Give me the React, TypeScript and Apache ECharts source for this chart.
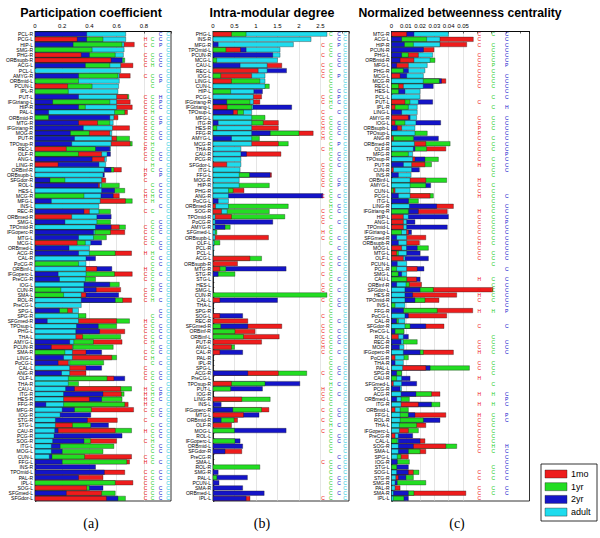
import React, { useEffect, useRef } from 'react';
import * as echarts from 'echarts';

const COLORS = ['#ee1c1c', '#22dd22', '#1414c8', '#1edcee'];
const LETTER_COLORS = ['#ee1111', '#22cc22', '#1111cc', '#22ccdd'];
const SERIES_NAMES = ['1mo', '1yr', '2yr', 'adult'];

// ---------- Panel (a): Participation coefficient ----------
const A_REGIONS = ['PCL-R','PCG-L','HIP-L','SMG-R','PHG-R','ORBsupb-R','ACG-L','PCL-L','AMYG-R','ORBmid-L','PCUN-L','IPL-R','PUT-L','IFGtriang-L','HIP-R','PAL-L','ORBmid-R','MTG-R','IFGtriang-R','MOG-R','PUT-R','TPOsup-R','REC-L','OLF-R','ANG-L','LING-R','ORBinf-R','ORBsupb-L','SFGdor-R','ROL-L','HES-L','MCG-R','MFG-L','INS-L','REC-R','ORBmed-R','SMG-L','TPOmid-R','IFGoperc-R','MTG-L','MCG-L','ORBmed-L','ACG-R','CAL-R','PoCG-R','ORBinf-L','IFGoperc-L','PreCG-R','IOG-L','CUN-R','SMA-L','ROL-R','PreCG-L','SPG-L','SPG-R','SFGmed-R','TPOsup-L','PHG-L','THA-L','AMYG-L','PCUN-R','SMA-R','LING-L','PoCG-L','CAL-L','ANG-R','OLF-L','THA-R','CAU-L','ITG-R','HES-R','FFG-R','MFG-R','IOG-R','STG-R','STG-L','CAU-R','PCG-R','SOG-R','ITG-L','MOG-L','CUN-L','FFG-L','INS-R','TPOmid-L','PAL-R','IPL-L','SOG-L','SFGmed-L','SFGdor-L'];
const A_1MO = [0,0.31,0.73,0,0.34,0.56,0.72,0,0.70,0,0.24,0,0.68,0.70,0.715,0.68,0.61,0.46,0.695,0.55,0.60,0.70,0.23,0.49,0.51,0.17,0.635,0,0.52,0.475,0,0.62,0.665,0,0.40,0.27,0,0.62,0.66,0,0.31,0,0.71,0,0,0.455,0.715,0,0,0.63,0.375,0.71,0,0.275,0,0.60,0,0.66,0.35,0.64,0.275,0.375,0.565,0.245,0.375,0.375,0.58,0,0.63,0.635,0.40,0.685,0.725,0,0.605,0.275,0.59,0,0.60,0,0,0.71,0.695,0,0.66,0.50,0.72,0.38,0.49,0.525];
const A_1YR = [0,0.50,0.64,0.42,0.59,0.66,0.55,0,0.61,0.32,0.42,0.245,0.69,0.55,0.37,0.66,0.10,0.55,0,0.40,0.695,0.715,0.445,0.32,0,0,0.58,0,0.22,0.62,0.66,0.36,0.715,0,0.555,0,0.555,0.665,0.555,0.525,0.37,0,0.59,0,0.32,0,0.585,0.445,0.62,0.19,0.21,0.645,0,0.24,0.375,0.695,0.60,0,0.63,0.43,0.575,0.22,0.60,0.505,0,0,0.53,0.32,0.71,0.655,0.64,0.66,0.415,0,0,0.41,0.71,0,0.41,0.58,0.50,0.365,0.675,0,0,0,0.59,0.40,0.59,0.665];
const A_2YR = [0.38,0.38,0.28,0,0.40,0.64,0.37,0,0.32,0,0,0,0.32,0.13,0.32,0.10,0.55,0.32,0.355,0.26,0.29,0.27,0.55,0.555,0.42,0.47,0.56,0.51,0.11,0.465,0.585,0.575,0.12,0,0.36,0.56,0.22,0.56,0.43,0.32,0.49,0.25,0.32,0.445,0,0.565,0.17,0.18,0.55,0.45,0.615,0.59,0,0.18,0,0.09,0.465,0.475,0,0.255,0.12,0.49,0.21,0.17,0.49,0.195,0.66,0,0.29,0.50,0.49,0.08,0.29,0.41,0.385,0.54,0.17,0.64,0.36,0.185,0.20,0.125,0.20,0.445,0.51,0.32,0,0.50,0.23,0.61];
const A_ADULT = [0.667,0.667,0.655,0.655,0.65,0.645,0.63,0.63,0.62,0.62,0.615,0.61,0.60,0.60,0.60,0.585,0.58,0.575,0.57,0.565,0.565,0.56,0.555,0.53,0.525,0.52,0.51,0.50,0.49,0.49,0.49,0.485,0.48,0.47,0.47,0.455,0.455,0.445,0.44,0.43,0.41,0.40,0.40,0.375,0.375,0.375,0.375,0.37,0.36,0.36,0.34,0.34,0.34,0.32,0.32,0.32,0.305,0.30,0.30,0.285,0.28,0.275,0.275,0.255,0.255,0.255,0.245,0.245,0.225,0.21,0.21,0.21,0.20,0.185,0.15,0.15,0.145,0.14,0.13,0.12,0.12,0.105,0,0,0,0,0,0,0,0];
const A_TICKS = [0, 0.2, 0.4, 0.6, 0.8];
const A_LET_1MO = '.HC.CCC.C...CCCCCCCCCCPCC.HPC.CHC.C..CCCC.H..HCC.CCC...HCCCC.CC.CCC.HHHHC.C.H.C..CH.CCCCCC';
const A_LET_1YR = '.CC.CCH.CCC.CCCHCCCCCHCCCHC..CCHH.C.CCCCC.HCCCCCCPCH..CCCCCHCCHC.CCCCHCCCC.CCCHCCCC.CCCCCC';
const A_LET_2YR = 'CCP.CCC.CP..HPC.CP.CC..CC.CP.CCC.C..CCC.CC.CC.C.CC.C.CC.CCC.CC.C.CC.CPC.CC.CCC.CC.C.CC.CCC';
const A_LET_ADULT = 'CCCCCCCCCCCCCCCCCCCCCCCCCCCCCCCCCCCCCCCCCCCCCCCCCCCCCCCCCCCCCCCCCCCCCCCCCCCCCCCCCCCCCCCCCC';

// ---------- Panel (b): Intra-modular degree ----------
const B_REGIONS = ['PHG-L','INS-R','MFG-R','TPOmid-L','PCUN-R','MCG-L','CAU-L','REC-L','IOG-L','LING-L','CUN-L','HIP-L','PCG-L','IFGtriang-R','IFGtriang-L','TPOsup-L','MFG-L','ITG-R','HES-R','FFG-R','AMYG-L','MCG-R','THA-R','CAU-R','PCG-R','SFGdor-L','ITG-L','FFG-L','MOG-R','HIP-R','PHG-R','ANG-R','PoCG-L','ORBmed-R','SOG-R','TPOmid-R','PoCG-R','AMYG-R','SFGmed-L','ORBsupb-L','OLF-L','PCL-R','PCL-L','ACG-L','ORBsupb-R','MTG-R','STG-R','STG-L','HES-L','SMG-L','CUN-R','CAL-L','THA-L','SPG-R','SOG-L','REC-R','SFGmed-R','ORBinf-R','ORBinf-L','PUT-R','ANG-L','CAL-R','PAL-R','IPL-R','SPG-L','ACG-R','PreCG-L','TPOsup-R','PUT-L','IOG-R','LING-R','INS-L','IFGoperc-R','MTG-L','ORBmid-R','OLF-R','MOG-L','ROL-L','IFGoperc-L','ORBmid-L','SFGdor-R','PreCG-R','SMA-L','ROL-R','SMG-R','PAL-L','PCUN-L','SMA-R','ORBmed-L','IPL-L'];
const B_1MO = [0.43,0,0,0.64,0,0,1.60,1.05,0.90,0.43,0,0,1.13,1.09,0.33,0.57,0,1.52,1.52,2.33,0,1.52,0,1.58,0,0.32,0,1.36,0,0,0.72,0,0,0.06,0.2,0.43,0,0,0,1.29,0,0,0,0.86,0.57,0.16,0,0,0,0,0,0.16,0,0,0.16,0.81,1.60,0.98,1.54,1.13,0.43,0.16,0,0,0,1.52,0,0.43,0,0,0.67,0,1.30,0.71,0.57,0.43,0,0,0,0,0.67,0,0,0,0,0,0,0,0,0.86];
const B_1YR = [0.77,0,0,0.30,0,0.085,0,0,0.18,1.09,1.31,0.41,0,0.86,0.90,0.71,1.21,1.17,0.09,2.0,1.08,1.75,0,0,0,0,0,0.85,0,1.31,0.47,0,0,1.75,1.31,1.67,0,0.40,0.09,0,0.16,0,0,1.13,0,0.30,0.51,0,0,0,2.65,0,0,0,0,0,0.18,0.51,0.71,0,0.50,0,0,0,0,2.18,0,1.21,0.41,0,1.33,0,1.13,0,0.49,0,0.50,0,0.51,0,0,0,0,1.09,0,0.09,0,0,0,0];
const B_2YR = [0,0,0.12,0.77,1.39,0,0.63,1.71,0,0,0,1.15,0,0.32,1.83,0.47,0,0.12,0,1.33,0.43,0,0,0.78,0,0,0,1.33,0,0,0,2.56,0.12,0,0,0,1.39,0.28,0,0,0,0,0,0,0,1.70,0.12,0,0,0,0,1.50,0,0,0.69,0,0.81,0,0,0,0,0.69,0,0,0,0.81,0,2.02,1.15,0,0,0.19,0.46,1.07,0.19,0,1.70,0,0.63,0.69,0.28,0,0,0,0.12,0.80,0.14,0.69,1.19,0.77];
const B_ADULT = [2.65,2.28,1.87,1.56,1.56,1.50,1.26,1.26,1.21,1.21,1.21,0.95,0.94,0.94,0.93,0.90,0.90,0.90,0.90,0.90,0.90,0.90,0.65,0.65,0.65,0.65,0.63,0.61,0.61,0.61,0.36,0.36,0.36,0.36,0.33,0.05,0.05,0.05,0.05,0.05,0.03,0.02,0.01,0,0,0,0,0,0,0,0,0,0,0,0,0,0,0,0,0,0,0,0,0,0,0,0,0,0,0,0,0,0,0,0,0,0,0,0,0,0,0,0,0,0,0,0,0,0,0];
const B_TICKS = [0, 0.5, 1, 1.5, 2, 2.5];
const B_LET_1MO = '..C.C.CCC...CC.CCCHCH.C..CCCCC.C..CCC.HC...CC.C.CC.C..C.CCCCHC...C..HCC.C.C.C.....C......C';
const B_LET_1YR = 'C.CCC.CCCCCCCHC.CCCCCCHCCCCCCCCCCHCC.CCCC.CCCCCCCCCCCCCCCCCCCCCCCCCHCCCCCCCHCCCCC.CCCCCCCCC';
const B_LET_2YR = 'CCP.CCC.P..CPC.C.CCC.P.CCC..CP.C.CC.C..C.C.CC..C.C.CC..C.CCC.C..CC.C.C..CC.C.CC..C.C.CC.C.';
const B_LET_ADULT = 'CCCCCCCCCCCCCCCCCCCCCCCCCCCCCCCCCCCCCCCCCCCCCCCCCCCCCCCCCCCCCCCCCCCCCCCCCCCCCCCCCCCCCCCCCC';

// ---------- Panel (c): Normalized betweenness centrality ----------
const C_REGIONS = ['MTG-R','ACG-L','HIP-R','PCUN-R','PHG-L','ORBmid-R','MFG-L','PHG-R','MCG-L','MCG-R','REC-L','HES-L','PCL-L','PUT-L','IPL-R','LING-L','AMYG-R','IOG-L','ORBsupb-L','TPOsup-L','ANG-R','ORBmed-R','OLF-R','MFG-R','TPOsup-R','PUT-R','CUN-R','INS-R','ORBinf-L','AMYG-L','CUN-L','PCG-L','ITG-L','LING-R','IFGtriang-R','HIP-L','ANG-L','TPOmid-L','IFGtriang-L','SFGmed-R','ORBsupb-R','MOG-L','MTG-L','OLF-L','PCUN-L','PCL-R','SMG-L','CAU-L','ORBinf-R','SFGdor-L','HES-R','TPOmid-R','INS-L','FFG-R','PoCG-L','CAL-R','SFGdor-R','PreCG-L','ROL-L','REC-R','MOG-R','IFGoperc-R','PoCG-R','THA-R','PAL-L','SPG-R','CAU-R','SFGmed-L','PCG-R','ACG-R','ORBmed-L','ITG-R','ORBmid-L','FFG-L','ROL-R','THA-L','IFGoperc-L','PreCG-R','CAL-L','SOG-R','SMA-L','SPG-L','IOG-R','STG-L','SOG-L','STG-R','SMG-R','PAL-R','SMA-R','IPL-L'];
const C_1MO = [0.0106,0.0572,0.0526,0.0297,0.0188,0.0157,0.0118,0,0.006,0.038,0.0083,0,0,0.0094,0.0025,0,0.0118,0.0025,0.0071,0,0.0013,0.024,0.038,0,0.0164,0.0234,0.0013,0,0.024,0,0.0025,0.027,0,0.0433,0.039,0.0083,0.0083,0.0083,0.012,0.024,0.0195,0.0071,0.0036,0.0083,0,0.018,0,0.0176,0.021,0.071,0.0456,0.0332,0,0.0568,0.0386,0,0.0367,0,0.0048,0,0,0.0433,0.0025,0,0.024,0,0,0.0013,0,0.0339,0,0.0188,0.0025,0.038,0,0.024,0.0118,0.0025,0.0234,0.038,0.024,0.0118,0,0,0.0153,0.0048,0,0.006,0.052,0];
const C_1YR = [0,0.0246,0.0153,0,0.0118,0.0304,0,0.0083,0,0.0335,0.005,0.005,0,0.0129,0.0118,0,0,0.0094,0,0.025,0.0153,0.041,0.0246,0.0118,0.0328,0.028,0,0,0.0386,0.024,0.0013,0.0293,0.0188,0,0.0118,0,0,0,0.007,0,0,0.0258,0.0048,0,0,0.0036,0.0048,0.0106,0.0125,0.0293,0,0.0234,0.0025,0.032,0,0.0048,0.013,0.0087,0,0.018,0,0.0223,0.0118,0,0.0545,0.0071,0.0036,0,0,0.028,0.0125,0.0339,0.0118,0.0118,0.0223,0.0176,0.0188,0,0.004,0.0456,0.02,0.0067,0.0125,0.0036,0.0192,0.0153,0.024,0,0.0157,0.0087];
const C_2YR = [0.0157,0.0071,0.009,0.0223,0.0071,0.006,0.0036,0.0118,0.0106,0.035,0.0292,0.0094,0,0.0288,0,0.0071,0.013,0.0344,0.004,0,0.0328,0,0.0164,0,0.0234,0.0083,0.0195,0.0048,0,0.0274,0,0.0048,0.0118,0.0316,0.0188,0.0398,0.0164,0.039,0.014,0.0036,0.0048,0.018,0.02,0.0258,0.004,0.0227,0.0071,0.02,0.0036,0.02,0.0148,0.0164,0,0.0083,0.0118,0.0036,0.024,0.0025,0.0118,0.0067,0.0055,0.02,0,0.0025,0.027,0.0036,0.013,0.0176,0.006,0.0171,0.0036,0.028,0,0.0164,0.0339,0,0,0.0148,0.02,0.0153,0.0118,0,0.004,0.0118,0.0118,0.0101,0.004,0,0.0118,0.0118];
const C_ADULT = [0.0398,0.0339,0.0339,0.0223,0.0288,0.027,0.025,0.0234,0.0223,0.0222,0.0222,0.020,0.0199,0.0188,0.018,0.018,0.0176,0.0171,0.0164,0.0164,0.0155,0.016,0.0153,0.0148,0.0148,0.0141,0.0141,0.0137,0.013,0.013,0.013,0.013,0.0118,0.0125,0.0118,0.0118,0.0106,0.0106,0.0105,0.0106,0.0106,0.0105,0.0106,0.0095,0.0106,0.0106,0.0106,0.0106,0.0101,0.0094,0.0094,0.0094,0.0094,0.0083,0.0094,0.0094,0.0094,0.0087,0.0083,0.0083,0.0087,0.0083,0.0087,0.0083,0.0078,0.0071,0.0071,0.0071,0.007,0.0067,0.0067,0.0067,0.006,0.006,0.006,0.0055,0.0055,0.0048,0.0048,0.0048,0.0048,0.004,0.004,0.0036,0.0036,0.003,0.0025,0.0025,0.0013,0.0013];
const C_TICKS = [0, 0.01, 0.02, 0.03, 0.04, 0.05];
const C_LET_1MO = 'CCC.CCCCCCC..C..CCPPCCCCCH..HCCH..HCCCCCHCCC...H.HHC.H..C..CCH.CC.H..H.H.HCCCCCCC...CC.CCC';
const C_LET_1YR = 'C.CCCCPCCCC.C.C.CCC.CCC.CCCC.CCCCCCCCCCCC.CCC..CCCCC.H....CCCC.CCC.C.H.H.CCCCCCHC..CCC.CC.';
const C_LET_2YR = 'CCCCCCP.CCCCC.H.CCCCCCCPCCC....C.CCCPCCCCCCC.C.CCCCCCP..C..CCC.......CPC.PC....HCCCCCC.CC.';
const C_LET_ADULT = '..........................................................................................';

const PX = {
  top: 31.5,
  height: 469.5,
  a: { left: 35, width: 136, max: 1.0, letterX: [0.8125, 0.865, 0.924, 0.978] },
  b: { left: 213, width: 136, max: 3.163, letterX: [2.56, 2.74, 2.93, 3.07] },
  c: { left: 391.5, width: 138, max: 0.0965, letterX: [0.0614, 0.0712, 0.0806, 0.0899] },
};

function barSeries(gi: number, regions: string[], v: number[][]) {
  return {
    type: 'custom',
    xAxisIndex: gi,
    yAxisIndex: gi,
    clip: true,
    encode: { x: [1, 2, 3, 4], y: 0 },
    data: regions.map((_, i) => [i, v[0][i], v[1][i], v[2][i], v[3][i]]),
    renderItem: (params: any, api: any) => {
      const idx = api.value(0);
      const vals = [api.value(1), api.value(2), api.value(3), api.value(4)];
      const base = api.coord([0, idx]);
      const h = api.size([0, 1])[1] * 0.86;
      const order = [0, 1, 2, 3].sort((a, b) => vals[b] - vals[a] || b - a);
      const children = order
        .filter((k) => vals[k] > 0)
        .map((k) => {
          const end = api.coord([vals[k], idx]);
          return {
            type: 'rect',
            shape: { x: base[0], y: base[1] - h / 2, width: end[0] - base[0], height: h },
            style: { fill: COLORS[k], stroke: '#1a1a1a', lineWidth: 0.35 },
          };
        });
      return { type: 'group', children };
    },
  };
}

function letterSeries(gi: number, regions: string[], letters: string[], xs: number[]) {
  return {
    type: 'custom',
    xAxisIndex: gi,
    yAxisIndex: gi,
    clip: false,
    encode: { x: 0, y: 1 },
    data: regions.map((_, i) => [0, i]),
    renderItem: (params: any, api: any) => {
      const idx = api.value(1);
      const y = api.coord([0, idx])[1];
      const children: any[] = [];
      letters.forEach((col, k) => {
        const ch = col[idx];
        if (!ch || ch === '.') return;
        const x = api.coord([xs[k], idx])[0];
        children.push({
          type: 'text',
          x,
          y,
          style: {
            text: ch,
            fill: LETTER_COLORS[k],
            fontSize: 5,
            lineHeight: 5,
            fontFamily: 'Liberation Sans',
            align: 'center',
            verticalAlign: 'middle',
          },
        });
      });
      return { type: 'group', children };
    },
  };
}

function fmt(v: number) {
  return String(+v.toFixed(3));
}

function xAxisFor(gi: number, max: number, interval: number, ticks: number[]) {
  const lim = ticks[ticks.length - 1] + interval * 1e-6;
  const nLines = Math.floor(max / interval + 1e-9) + 2;
  const colors: string[] = [];
  for (let i = 0; i < nLines; i++) colors.push(i * interval <= lim ? '#d4d4d4' : 'rgba(0,0,0,0)');
  return {
    type: 'value',
    gridIndex: gi,
    position: 'top',
    min: 0,
    max,
    interval,
    axisLine: { show: true, lineStyle: { color: '#000', width: 0.8 } },
    axisTick: { show: true, inside: true, length: 2, lineStyle: { color: '#000', width: 0.6 } },
    axisLabel: {
      fontSize: 6,
      color: '#000',
      margin: 3,
      fontFamily: 'Liberation Sans',
      formatter: (v: number) => (v <= lim ? fmt(v) : ''),
    },
    splitLine: { show: true, lineStyle: { color: colors, width: 0.6 } },
  };
}

function yAxisFor(gi: number, regions: string[]) {
  return {
    type: 'category',
    gridIndex: gi,
    data: regions,
    inverse: true,
    axisLine: { show: true, lineStyle: { color: '#000', width: 0.8 } },
    axisTick: { show: true, inside: true, length: 1.5, lineStyle: { color: '#000', width: 0.5 } },
    axisLabel: { interval: 0, fontSize: 5, lineHeight: 5, color: '#000', margin: 2, fontFamily: 'Liberation Sans' },
    splitLine: { show: false },
  };
}

export default function App() {
  const ref = useRef<HTMLDivElement>(null);
  useEffect(() => {
    document.body.style.margin = '0';
    if (!ref.current) return;
    const chart = echarts.init(ref.current, null, { renderer: 'svg' });
    const grids = [PX.a, PX.b, PX.c].map((g) => ({
      left: g.left,
      top: PX.top,
      width: g.width,
      height: PX.height,
      show: true,
      borderColor: '#000',
      borderWidth: 0.8,
      backgroundColor: '#fff',
    }));
    const legendItems: any[] = [
      { type: 'rect', shape: { x: 541, y: 464, width: 56, height: 57 }, style: { fill: '#fff', stroke: '#000', lineWidth: 0.8 } },
    ];
    SERIES_NAMES.forEach((name, k) => {
      const cy = 474 + k * 12.7;
      legendItems.push({ type: 'rect', shape: { x: 545, y: cy - 4, width: 22, height: 8 }, style: { fill: COLORS[k], stroke: '#222', lineWidth: 0.4 } });
      legendItems.push({ type: 'text', x: 571, y: cy, style: { text: name, fontSize: 9, fontFamily: 'Liberation Sans', fill: '#000', verticalAlign: 'middle' } });
    });
    const titles = [
      { t: 'Participation coefficient', x: 91, s: 12.5 },
      { t: 'Intra-modular degree', x: 272, s: 12.5 },
      { t: 'Normalized betweenness centrality', x: 460, s: 12.2 },
    ].map((o) => ({
      type: 'text',
      x: o.x,
      y: 13,
      style: { text: o.t, fontSize: o.s, fontWeight: 'bold', fontFamily: 'Liberation Sans', fill: '#000', align: 'center', verticalAlign: 'middle' },
    }));
    const subs = [
      { t: '(a)', x: 91 },
      { t: '(b)', x: 262 },
      { t: '(c)', x: 457 },
    ].map((o) => ({
      type: 'text',
      x: o.x,
      y: 523,
      style: { text: o.t, fontSize: 14, fontFamily: 'Liberation Serif', fill: '#000', align: 'center', verticalAlign: 'middle' },
    }));

    chart.setOption({
      animation: false,
      backgroundColor: '#fff',
      grid: grids,
      xAxis: [
        xAxisFor(0, PX.a.max, 0.2, A_TICKS),
        xAxisFor(1, PX.b.max, 0.5, B_TICKS),
        xAxisFor(2, PX.c.max, 0.01, C_TICKS),
      ],
      yAxis: [yAxisFor(0, A_REGIONS), yAxisFor(1, B_REGIONS), yAxisFor(2, C_REGIONS)],
      series: [
        barSeries(0, A_REGIONS, [A_1MO, A_1YR, A_2YR, A_ADULT]),
        barSeries(1, B_REGIONS, [B_1MO, B_1YR, B_2YR, B_ADULT]),
        barSeries(2, C_REGIONS, [C_1MO, C_1YR, C_2YR, C_ADULT]),
        letterSeries(0, A_REGIONS, [A_LET_1MO, A_LET_1YR, A_LET_2YR, A_LET_ADULT], PX.a.letterX),
        letterSeries(1, B_REGIONS, [B_LET_1MO, B_LET_1YR, B_LET_2YR, B_LET_ADULT], PX.b.letterX),
        letterSeries(2, C_REGIONS, [C_LET_1MO, C_LET_1YR, C_LET_2YR, C_LET_ADULT], PX.c.letterX),
      ],
      graphic: [...titles, ...subs, ...legendItems],
    });
    return () => chart.dispose();
  }, []);
  return <div ref={ref} style={{ position: 'absolute', left: 0, top: 0, width: 600, height: 538 }} />;
}
